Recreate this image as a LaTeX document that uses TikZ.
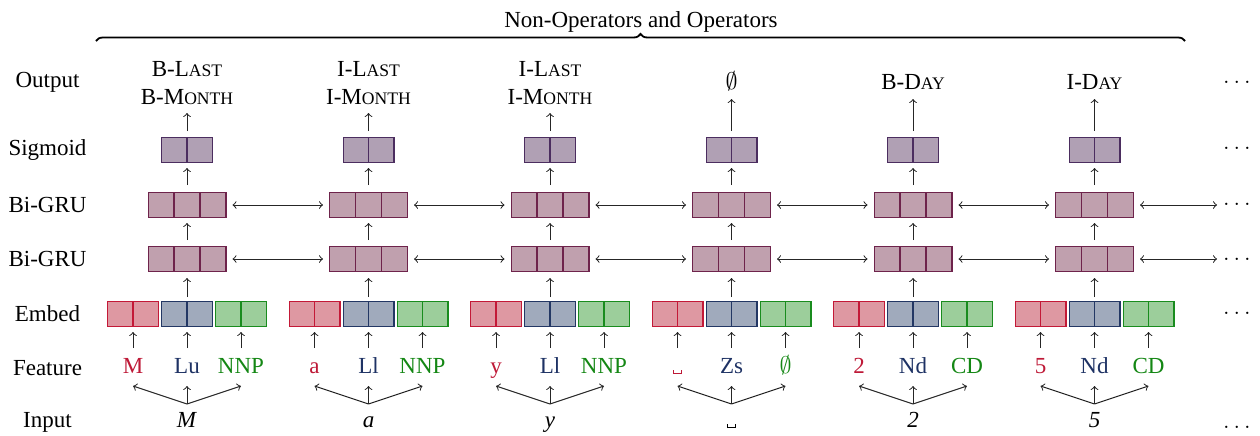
\documentclass[tikz,border=0pt]{standalone}
\usepackage{fontspec}
\setmainfont{Liberation Serif}
\usetikzlibrary{decorations.pathreplacing}
\definecolor{redB}{RGB}{195,25,55}
\definecolor{redF}{RGB}{222,152,162}
\definecolor{bluB}{RGB}{35,55,100}
\definecolor{bluF}{RGB}{160,170,188}
\definecolor{grnB}{RGB}{25,140,30}
\definecolor{grnF}{RGB}{156,206,155}
\definecolor{gruB}{RGB}{110,35,75}
\definecolor{gruF}{RGB}{192,160,174}
\definecolor{sigB}{RGB}{75,45,95}
\definecolor{sigF}{RGB}{176,160,180}
\definecolor{redT}{RGB}{190,25,55}
\definecolor{bluT}{RGB}{30,50,100}
\definecolor{grnT}{RGB}{20,135,20}
\newcommand\smc[1]{{\fontsize{8.8}{10}\selectfont #1}}
\newcommand\vspc{\raisebox{-0.6pt}{\hbox{\vrule width .45pt height 2.2pt\vrule width 3.6pt height .45pt\vrule width .45pt height 2.2pt}}}
\begin{document}
\begin{tikzpicture}[x=0.5pt,y=-0.5pt,
  font=\fontsize{11.5}{14}\selectfont,
  lbl/.style={anchor=base, inner sep=0pt},
  arr/.style={->, draw=black!85, line width=0.5pt},
  harr/.style={<->, draw=black!85, line width=0.5pt, shorten <=3pt, shorten >=3pt},
  box/.style={draw=#1, line width=0.6pt, minimum height=12.4pt, inner sep=0pt},
  twocell/.style 2 args={box=#1, fill=#2, minimum width=25.4pt,
    path picture={\draw[#1, line width=0.6pt] (path picture bounding box.north) -- (path picture bounding box.south);}},
  threecell/.style 2 args={box=#1, fill=#2, minimum width=38.9pt,
    path picture={\draw[#1, line width=0.6pt] ([xshift=-6.483pt]path picture bounding box.north) -- ([xshift=-6.483pt]path picture bounding box.south)
      ([xshift=6.483pt]path picture bounding box.north) -- ([xshift=6.483pt]path picture bounding box.south);}}
]
\useasboundingbox (0,0) rectangle (1260,435);

% title and brace
\node[lbl] (title) at (641,27) {Non-Operators and Operators};
\draw[decorate, decoration={brace, amplitude=3.5pt}, line width=0.9pt] (96,41) -- (1185,41);

% row labels
\node[lbl] (lOut) at (47.5,87) {Output};
\node[lbl] (lSig) at (47.5,155) {Sigmoid};
\node[lbl] (lG1) at (47.5,212.5) {Bi-GRU};
\node[lbl] (lG2) at (47.5,266.5) {Bi-GRU};
\node[lbl] (lEmb) at (47.5,321.5) {Embed};
\node[lbl] (lFeat) at (47.5,375) {Feature};
\node[lbl] (lIn) at (47.5,427.5) {Input};

% columns
\foreach \i/\x/\fa/\fb/\fc/\inp in {
  1/187/M/Lu/NNP/\textit{M},
  2/368.5/a/Ll/NNP/\textit{a},
  3/550/y/Ll/NNP/\textit{y},
  4/731.5/\vspc/Zs/$\emptyset$/\vspc,
  5/913/2/Nd/CD/\textit{2},
  6/1094.5/5/Nd/CD/\textit{5}}{
  \node[twocell={sigB}{sigF}] (sig\i) at (\x,150) {};
  \node[threecell={gruB}{gruF}] (ga\i) at (\x,205) {};
  \node[threecell={gruB}{gruF}] (gb\i) at (\x,259) {};
  \node[twocell={redB}{redF}] (er\i) at (\x-54,314) {};
  \node[twocell={bluB}{bluF}] (eb\i) at (\x,314) {};
  \node[twocell={grnB}{grnF}] (eg\i) at (\x+54,314) {};
  \node[lbl, text=redT] (fr\i) at (\x-54,373) {\fa};
  \node[lbl, text=bluT] (fb\i) at (\x,373) {\fb};
  \node[lbl, text=grnT] (fg\i) at (\x+54,373) {\fc};
  \node[lbl] (in\i) at (\x,427) {\inp};
  % vertical arrows
  \draw[arr] ([yshift=2pt]eb\i.north) -- ([yshift=-3pt]gb\i.south);
  \draw[arr] ([yshift=3pt]gb\i.north) -- ([yshift=-2.5pt]ga\i.south);
  \draw[arr] ([yshift=3.5pt]ga\i.north) -- ([yshift=-2.5pt]sig\i.south);
  \draw[arr] ([yshift=12.5pt]fr\i.base) -- ([yshift=-2.5pt]er\i.south);
  \draw[arr] ([yshift=12.5pt]fb\i.base) -- ([yshift=-2.5pt]eb\i.south);
  \draw[arr] ([yshift=12.5pt]fg\i.base) -- ([yshift=-2.5pt]eg\i.south);
  \draw[arr] ([yshift=11.5pt]in\i.base) -- ([yshift=-6.5pt]fr\i.base);
  \draw[arr] ([yshift=11.5pt]in\i.base) -- ([yshift=-6.5pt]fb\i.base);
  \draw[arr] ([yshift=11.5pt]in\i.base) -- ([yshift=-6.5pt]fg\i.base);
}

% outputs
\foreach \i/\x/\ta/\tb in {1/187/B-L\smc{AST}/B-M\smc{ONTH}, 2/368.5/I-L\smc{AST}/I-M\smc{ONTH}, 3/550/I-L\smc{AST}/I-M\smc{ONTH}}{
  \node[lbl] (outt\i) at (\x,76) {\ta};
  \node[lbl] (out\i) at (\x,104) {\tb};
  \draw[arr] ([yshift=3pt]sig\i.north) -- ([yshift=-4.5pt]out\i.base);
}
\foreach \i/\x/\ta in {4/731.5/$\emptyset$, 5/913/B-D\smc{AY}, 6/1094.5/I-D\smc{AY}}{
  \node[lbl] (out\i) at (\x,89) {\ta};
  \draw[arr] ([yshift=3pt]sig\i.north) -- ([yshift=-5pt]out\i.base);
}

% horizontal Bi-GRU arrows
\foreach \i/\j in {1/2,2/3,3/4,4/5,5/6}{
  \draw[harr] (ga\i.east) -- (ga\j.west);
  \draw[harr] (gb\i.east) -- (gb\j.west);
}
\coordinate (gaR) at (1217,205);
\coordinate (gbR) at (1217,259);
\draw[harr, shorten >=0pt] (ga6.east) -- (gaR);
\draw[harr, shorten >=0pt] (gb6.east) -- (gbR);

% dots
\node[lbl] (d1) at (1237,83) {$\ldots$};
\node[lbl] (d2) at (1237,149) {$\ldots$};
\node[lbl] (d3) at (1237,205) {$\ldots$};
\node[lbl] (d4) at (1237,260) {$\ldots$};
\node[lbl] (d5) at (1237,314) {$\ldots$};
\node[lbl] (d6) at (1237,428) {$\ldots$};
\end{tikzpicture}
\end{document}
